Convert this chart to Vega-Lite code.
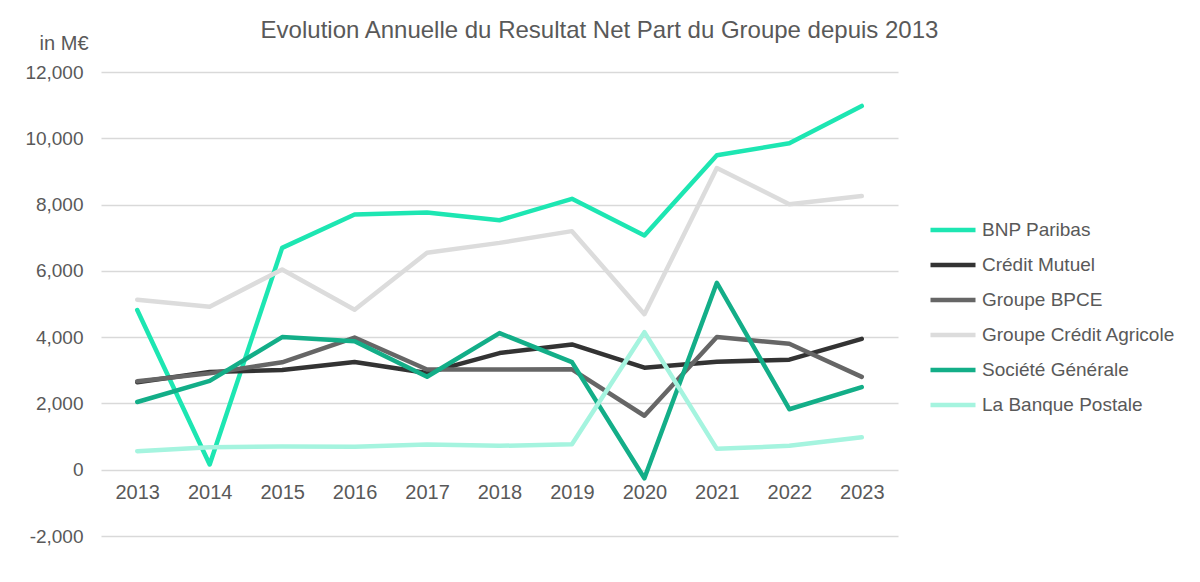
{
  "$schema": "https://vega.github.io/schema/vega-lite/v6.json",
  "autosize": {"type": "none"},
  "width": 797,
  "height": 464,
  "padding": {"left": 101, "top": 72, "right": 302, "bottom": 46},
  "background": "white",
  "title": {
    "text": "Evolution Annuelle du Resultat Net Part du Groupe depuis 2013",
    "fontSize": 24,
    "font": "Liberation Sans",
    "fontWeight": "normal",
    "color": "#595959",
    "anchor": "middle",
    "dx": 100,
    "offset": -10
  },
  "data": {
    "values": [
      {"year": "2013", "bank": "BNP Paribas", "value": 4818},
      {"year": "2014", "bank": "BNP Paribas", "value": 157},
      {"year": "2015", "bank": "BNP Paribas", "value": 6694},
      {"year": "2016", "bank": "BNP Paribas", "value": 7702},
      {"year": "2017", "bank": "BNP Paribas", "value": 7759},
      {"year": "2018", "bank": "BNP Paribas", "value": 7526},
      {"year": "2019", "bank": "BNP Paribas", "value": 8173},
      {"year": "2020", "bank": "BNP Paribas", "value": 7067},
      {"year": "2021", "bank": "BNP Paribas", "value": 9488},
      {"year": "2022", "bank": "BNP Paribas", "value": 9848},
      {"year": "2023", "bank": "BNP Paribas", "value": 10975},
      {"year": "2013", "bank": "Crédit Mutuel", "value": 2640},
      {"year": "2014", "bank": "Crédit Mutuel", "value": 2950},
      {"year": "2015", "bank": "Crédit Mutuel", "value": 3010},
      {"year": "2016", "bank": "Crédit Mutuel", "value": 3250},
      {"year": "2017", "bank": "Crédit Mutuel", "value": 2920},
      {"year": "2018", "bank": "Crédit Mutuel", "value": 3520},
      {"year": "2019", "bank": "Crédit Mutuel", "value": 3780},
      {"year": "2020", "bank": "Crédit Mutuel", "value": 3080},
      {"year": "2021", "bank": "Crédit Mutuel", "value": 3260},
      {"year": "2022", "bank": "Crédit Mutuel", "value": 3320},
      {"year": "2023", "bank": "Crédit Mutuel", "value": 3950},
      {"year": "2013", "bank": "Groupe BPCE", "value": 2669},
      {"year": "2014", "bank": "Groupe BPCE", "value": 2907},
      {"year": "2015", "bank": "Groupe BPCE", "value": 3242},
      {"year": "2016", "bank": "Groupe BPCE", "value": 3988},
      {"year": "2017", "bank": "Groupe BPCE", "value": 3024},
      {"year": "2018", "bank": "Groupe BPCE", "value": 3026},
      {"year": "2019", "bank": "Groupe BPCE", "value": 3030},
      {"year": "2020", "bank": "Groupe BPCE", "value": 1628},
      {"year": "2021", "bank": "Groupe BPCE", "value": 4003},
      {"year": "2022", "bank": "Groupe BPCE", "value": 3800},
      {"year": "2023", "bank": "Groupe BPCE", "value": 2800},
      {"year": "2013", "bank": "Groupe Crédit Agricole", "value": 5130},
      {"year": "2014", "bank": "Groupe Crédit Agricole", "value": 4920},
      {"year": "2015", "bank": "Groupe Crédit Agricole", "value": 6043},
      {"year": "2016", "bank": "Groupe Crédit Agricole", "value": 4825},
      {"year": "2017", "bank": "Groupe Crédit Agricole", "value": 6548},
      {"year": "2018", "bank": "Groupe Crédit Agricole", "value": 6844},
      {"year": "2019", "bank": "Groupe Crédit Agricole", "value": 7198},
      {"year": "2020", "bank": "Groupe Crédit Agricole", "value": 4693},
      {"year": "2021", "bank": "Groupe Crédit Agricole", "value": 9101},
      {"year": "2022", "bank": "Groupe Crédit Agricole", "value": 8011},
      {"year": "2023", "bank": "Groupe Crédit Agricole", "value": 8258},
      {"year": "2013", "bank": "Société Générale", "value": 2044},
      {"year": "2014", "bank": "Société Générale", "value": 2679},
      {"year": "2015", "bank": "Société Générale", "value": 4001},
      {"year": "2016", "bank": "Société Générale", "value": 3874},
      {"year": "2017", "bank": "Société Générale", "value": 2806},
      {"year": "2018", "bank": "Société Générale", "value": 4121},
      {"year": "2019", "bank": "Société Générale", "value": 3248},
      {"year": "2020", "bank": "Société Générale", "value": -258},
      {"year": "2021", "bank": "Société Générale", "value": 5641},
      {"year": "2022", "bank": "Société Générale", "value": 1825},
      {"year": "2023", "bank": "Société Générale", "value": 2493},
      {"year": "2013", "bank": "La Banque Postale", "value": 560},
      {"year": "2014", "bank": "La Banque Postale", "value": 680},
      {"year": "2015", "bank": "La Banque Postale", "value": 700},
      {"year": "2016", "bank": "La Banque Postale", "value": 690},
      {"year": "2017", "bank": "La Banque Postale", "value": 760},
      {"year": "2018", "bank": "La Banque Postale", "value": 720},
      {"year": "2019", "bank": "La Banque Postale", "value": 770},
      {"year": "2020", "bank": "La Banque Postale", "value": 4150},
      {"year": "2021", "bank": "La Banque Postale", "value": 630},
      {"year": "2022", "bank": "La Banque Postale", "value": 720},
      {"year": "2023", "bank": "La Banque Postale", "value": 980}
    ]
  },
  "mark": {"type": "line", "strokeWidth": 4.5, "strokeCap": "round", "strokeJoin": "round"},
  "encoding": {
    "x": {
      "field": "year",
      "type": "ordinal",
      "scale": {"paddingInner": 0, "paddingOuter": 0.5},
      "axis": {
        "title": null,
        "domain": false,
        "ticks": false,
        "grid": false,
        "labelAngle": 0,
        "offset": -66,
        "labelPadding": 12,
        "labelFontSize": 20,
        "labelColor": "#595959",
        "labelFont": "Liberation Sans"
      }
    },
    "y": {
      "field": "value",
      "type": "quantitative",
      "scale": {"domain": [-2000, 12000], "nice": false, "zero": false},
      "axis": {
        "values": [-2000, 0, 2000, 4000, 6000, 8000, 10000, 12000],
        "format": ",d",
        "labelExpr": "replace(datum.label, '−', '-')",
        "domain": false,
        "ticks": false,
        "gridColor": "#d9d9d9",
        "gridWidth": 1.5,
        "labelFontSize": 19,
        "labelColor": "#595959",
        "labelFont": "Liberation Sans",
        "labelPadding": 18,
        "title": "in M€",
        "titleAngle": 0,
        "titleAlign": "right",
        "titleBaseline": "alphabetic",
        "titleX": -13,
        "titleY": -23,
        "titleFontSize": 20,
        "titleFontWeight": "normal",
        "titleColor": "#595959",
        "titleFont": "Liberation Sans"
      }
    },
    "color": {
      "field": "bank",
      "type": "nominal",
      "scale": {
        "domain": ["BNP Paribas", "Crédit Mutuel", "Groupe BPCE", "Groupe Crédit Agricole", "Société Générale", "La Banque Postale"],
        "range": ["#1de6b2", "#333333", "#666666", "#dcdcdc", "#13ae88", "#a5f4df"]
      },
      "legend": {
        "title": null,
        "orient": "none",
        "legendX": 827,
        "legendY": 133,
        "symbolType": "stroke",
        "symbolSize": 2025,
        "symbolStrokeWidth": 4.5,
        "labelFontSize": 19,
        "labelLimit": 0,
        "labelColor": "#595959",
        "labelFont": "Liberation Sans",
        "labelOffset": 4,
        "rowPadding": -10
      }
    }
  },
  "config": {"view": {"stroke": null}}
}
